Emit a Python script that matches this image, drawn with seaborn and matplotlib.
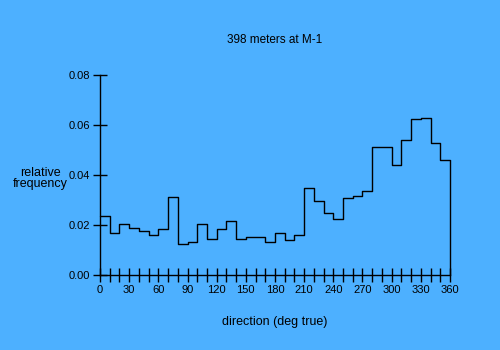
import matplotlib
matplotlib.use("Agg")
import matplotlib.pyplot as plt
import seaborn as sns
import numpy as np
import pandas as pd
from matplotlib.ticker import MultipleLocator, FormatStrFormatter

# Data: relative frequency per 10-degree direction bin
bin_starts = list(range(0, 360, 10))
rel_freq = [0.0236, 0.0167, 0.0204, 0.0187, 0.0175, 0.0159, 0.0183, 0.0312,
            0.0123, 0.0132, 0.0204, 0.0143, 0.0183, 0.0215, 0.0143, 0.0151,
            0.0151, 0.0132, 0.0167, 0.0139, 0.0160, 0.0347, 0.0295, 0.0247,
            0.0223, 0.0307, 0.0315, 0.0335, 0.0511, 0.0511, 0.0439, 0.0539,
            0.0623, 0.0627, 0.0527, 0.0460]
x_ticks = list(range(0, 361, 30))
y_ticks = [0.00, 0.02, 0.04, 0.06, 0.08]
title = "398 meters at M-1"
xlabel = "direction (deg true)"
ylabel = "relative\nfrequency"

bg = "#4DB0FF"
lw = 1.0
sns.set_style("ticks")
plt.rcParams["font.family"] = ["Liberation Sans", "DejaVu Sans"]

df = pd.DataFrame({"direction": [b + 5 for b in bin_starts], "freq": rel_freq})

fig = plt.figure(figsize=(5, 3.5), dpi=100, facecolor=bg)
ax = fig.add_axes([0.2, 0.2143, 0.7, 0.5714])
ax.set_facecolor(bg)

sns.histplot(data=df, x="direction", weights="freq", binwidth=10, binrange=(0, 360),
             element="step", fill=False, color="black", linewidth=lw, ax=ax)
for ln in ax.lines:
    ln.set_clip_on(False)
# closing edge at the end of the last bin
ax.vlines(bin_starts[-1] + 10, 0, rel_freq[-1], color="black", linewidth=lw,
          clip_on=False)

ax.set_xlim(0, 360)
ax.set_ylim(0, 0.08)
ax.set_xticks(x_ticks)
ax.xaxis.set_minor_locator(MultipleLocator(10))
ax.set_yticks(y_ticks)
ax.yaxis.set_major_formatter(FormatStrFormatter("%.2f"))

for s in ["top", "right"]:
    ax.spines[s].set_visible(False)
for s in ["left", "bottom"]:
    ax.spines[s].set_color("black")
    ax.spines[s].set_linewidth(lw)

ax.tick_params(axis="both", which="both", direction="inout", length=10, width=lw,
               color="black", labelsize=8, labelcolor="black")
ax.tick_params(axis="x", which="both", pad=2)
ax.tick_params(axis="y", which="both", pad=2)

ax.set_xlabel("")
ax.set_ylabel("")
fig.text(0.55, 0.885, title, ha="center", va="center", fontsize=8.5, color="black")
fig.text(0.55, 0.08, xlabel, ha="center", va="center", fontsize=9, color="black")
fig.text(0.08, 0.49, ylabel, ha="center", va="center", fontsize=9, color="black",
         linespacing=0.95)

fig.savefig("out.png", dpi=100, facecolor=bg)
